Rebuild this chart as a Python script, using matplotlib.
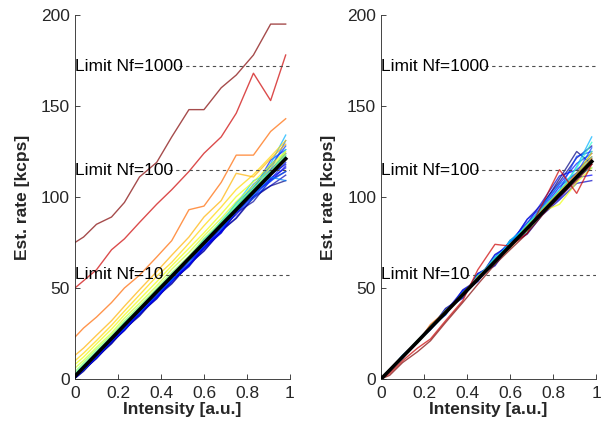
import numpy as np
import matplotlib
matplotlib.use("Agg")
import matplotlib.pyplot as plt

# %% Data

intensity = [0, 0.04, 0.1, 0.17, 0.23, 0.3, 0.38, 0.45, 0.53, 0.6, 0.68, 0.75, 0.83, 0.91, 0.98]

# raw estimates, one trace per background setting (colour index into jet)
raw_colors = [0.0, 0.02, 0.04, 0.05, 0.08, 0.1, 0.12, 0.15, 0.16, 0.18, 0.2, 0.22, 0.25, 0.28, 0.3, 0.33,
              0.38, 0.45, 0.52, 0.6, 0.64, 0.68, 0.72, 0.8, 0.93, 1.0]
raw_traces = [
    [0.4, 4.2, 11.9, 19.3, 27.4, 34.6, 45.1, 52.2, 63.1, 70.4, 81.5, 88.2, 99.6, 106.1, 109.0],
    [0.4, 5.1, 11.2, 20.1, 26.6, 35.8, 44.0, 53.9, 61.7, 71.9, 80.2, 91.3, 97.5, 109.4, 114.0],
    [0.5, 4.8, 11.4, 20.2, 26.8, 35.9, 44.3, 54.1, 62.2, 72.6, 80.7, 91.5, 101.8, 112.4, 118.0],
    [0.5, 4.6, 12.5, 19.6, 27.8, 34.9, 45.8, 52.6, 62.9, 70.3, 81.1, 88.6, 100.4, 106.2, 112.0],
    [0.6, 5.4, 11.7, 20.6, 26.9, 36.2, 44.7, 54.3, 62.4, 72.8, 81.2, 93.1, 100.2, 110.3, 116.0],
    [1.0, 5.2, 12.9, 20.7, 28.5, 35.6, 46.6, 53.5, 64.8, 71.4, 83.2, 90.2, 102.4, 108.6, 117.0],
    [0.8, 5.3, 11.8, 21.0, 27.1, 36.5, 44.6, 53.8, 62.6, 72.2, 80.4, 93.5, 102.1, 114.6, 124.0],
    [1.2, 5.7, 13.4, 20.6, 29.0, 36.4, 47.2, 54.3, 65.7, 72.3, 84.1, 92.2, 101.5, 109.8, 119.0],
    [1.0, 5.9, 12.2, 21.5, 27.6, 37.1, 45.5, 55.2, 63.4, 73.9, 82.1, 94.3, 104.0, 120.2, 126.0],
    [1.0, 5.2, 12.9, 21.1, 29.5, 36.6, 47.6, 54.5, 64.9, 73.2, 85.1, 93.0, 105.2, 117.1, 128.0],
    [1.5, 6.3, 12.7, 22.0, 28.0, 38.2, 46.4, 56.7, 65.3, 74.8, 82.4, 91.9, 99.2, 108.8, 114.0],
    [1.3, 5.7, 13.9, 21.5, 29.6, 36.5, 46.8, 54.3, 65.8, 73.3, 85.9, 94.2, 106.9, 115.1, 131.0],
    [1.8, 6.8, 13.2, 22.5, 29.1, 38.6, 47.0, 56.8, 64.4, 75.6, 83.3, 92.8, 101.1, 110.9, 109.0],
    [2.0, 6.2, 14.3, 22.0, 30.5, 37.9, 48.6, 55.9, 66.7, 74.3, 85.8, 94.1, 104.9, 114.0, 121.0],
    [2.0, 7.3, 13.7, 23.0, 29.6, 38.7, 47.4, 57.6, 66.3, 76.8, 85.2, 96.9, 105.1, 118.2, 134.0],
    [2.2, 6.8, 14.8, 22.6, 31.0, 38.5, 49.1, 56.5, 66.7, 75.3, 86.8, 96.1, 108.9, 113.2, 123.0],
    [2.5, 7.2, 14.0, 22.6, 30.4, 38.9, 48.2, 56.9, 65.4, 75.1, 84.3, 94.6, 104.2, 112.9, 126.0],
    [3.0, 8.0, 15.2, 23.4, 30.8, 39.3, 48.9, 57.3, 66.9, 75.8, 85.6, 94.7, 103.9, 113.6, 122.0],
    [4.0, 9.0, 16.3, 24.2, 31.9, 40.2, 49.8, 58.4, 67.6, 77.1, 86.4, 95.8, 104.7, 114.4, 123.0],
    [6.0, 10.2, 17.4, 25.3, 33.4, 41.6, 51.2, 60.3, 69.5, 78.6, 88.2, 97.4, 106.3, 116.1, 124.0],
    [8.0, 12.1, 19.3, 27.4, 35.2, 43.7, 53.4, 62.2, 71.8, 80.3, 90.6, 100.2, 108.4, 117.6, 125.0],
    [10.0, 14.2, 21.1, 29.5, 37.3, 46.2, 56.4, 64.1, 74.6, 84.2, 94.5, 104.1, 112.3, 122.2, 131.0],
    [13.0, 17.0, 24.0, 32.0, 40.0, 49.0, 59.0, 68.0, 78.0, 89.0, 98.0, 113.0, 111.0, 121.0, 129.0],
    [23.0, 28.0, 34.0, 42.0, 50.0, 57.0, 67.0, 76.0, 93.0, 95.0, 108.0, 123.0, 123.0, 136.0, 143.0],
    [50.0, 54.0, 60.0, 71.0, 77.0, 86.0, 96.0, 104.0, 114.0, 124.0, 133.0, 146.0, 168.0, 153.0, 178.0],
    [75.0, 78.0, 85.0, 89.0, 97.0, 111.0, 119.0, 133.0, 148.0, 148.0, 160.0, 167.0, 178.0, 195.0, 195.0],
]
raw_fit = [1.5, 6.4, 13.7, 22.2, 29.6, 38.1, 47.9, 56.4, 66.2, 74.7, 84.5, 93.0, 102.8, 112.5, 121.0]

# corrected estimates
corr_colors = [0.0, 0.03, 0.06, 0.08, 0.1, 0.12, 0.15, 0.18, 0.2, 0.25, 0.3, 0.35, 0.4, 0.45, 0.5,
               0.58, 0.64, 0.72, 0.8, 0.93, 1.0]
corr_traces = [
    [0.1, 5.3, 11.8, 21.2, 27.6, 38.8, 45.0, 57.9, 63.1, 76.2, 82.4, 95.1, 110.0, 125.0, 118.0],
    [0.0, 4.5, 12.8, 20.3, 29.1, 35.2, 49.0, 54.3, 68.4, 73.6, 87.8, 96.2, 108.3, 121.5, 128.0],
    [0.0, 5.1, 11.5, 21.0, 27.3, 38.2, 44.4, 57.1, 62.2, 73.8, 79.6, 90.1, 98.4, 107.5, 109.0],
    [0.1, 4.9, 12.3, 20.7, 28.4, 35.9, 47.1, 53.6, 66.2, 72.0, 85.3, 97.4, 111.6, 114.9, 122.0],
    [0.1, 4.4, 12.7, 20.2, 29.0, 37.1, 48.6, 53.7, 66.9, 75.5, 85.9, 93.2, 105.6, 113.1, 120.0],
    [0.0, 5.2, 11.6, 21.1, 27.4, 38.3, 44.8, 57.9, 62.7, 74.9, 80.4, 92.0, 99.1, 110.7, 112.0],
    [0.2, 4.3, 12.6, 20.0, 28.8, 35.3, 48.4, 54.2, 68.1, 73.2, 87.7, 94.3, 107.2, 118.4, 124.0],
    [0.0, 4.7, 12.2, 20.5, 28.2, 37.7, 45.9, 56.5, 64.6, 75.8, 82.6, 92.4, 103.7, 122.3, 125.0],
    [0.0, 5.0, 11.4, 20.9, 27.0, 36.1, 47.2, 55.4, 66.2, 74.1, 84.3, 94.1, 102.2, 113.0, 127.0],
    [0.1, 4.6, 13.0, 20.4, 29.3, 37.0, 45.9, 57.0, 64.8, 75.2, 83.1, 95.6, 106.8, 113.2, 121.0],
    [0.0, 5.3, 11.7, 21.3, 27.5, 35.4, 47.6, 54.0, 66.3, 72.8, 84.2, 92.9, 101.4, 116.8, 133.0],
    [0.2, 4.4, 12.9, 20.3, 29.2, 37.2, 45.8, 56.6, 63.9, 76.1, 83.8, 93.3, 104.1, 111.2, 116.0],
    [0.0, 5.1, 11.5, 21.2, 27.3, 36.6, 47.0, 55.3, 66.9, 73.3, 85.1, 94.0, 103.3, 115.8, 130.0],
    [0.3, 4.6, 12.6, 20.0, 29.0, 36.9, 45.3, 56.7, 63.1, 74.4, 81.0, 90.8, 100.9, 111.3, 125.0],
    [0.0, 5.2, 12.0, 21.4, 27.8, 36.5, 47.2, 54.8, 65.5, 72.6, 84.3, 92.6, 101.8, 110.4, 119.0],
    [0.2, 4.3, 12.4, 19.9, 28.1, 37.8, 45.6, 55.9, 63.8, 74.1, 81.7, 90.6, 101.3, 111.6, 122.0],
    [0.5, 5.0, 12.0, 21.0, 28.0, 37.0, 46.0, 55.0, 65.0, 73.0, 84.0, 92.0, 96.0, 108.0, 116.0],
    [0.3, 5.0, 12.0, 21.0, 28.0, 36.0, 46.0, 55.0, 64.0, 72.0, 82.0, 93.0, 103.0, 113.0, 124.0],
    [0.0, 5.0, 12.0, 20.0, 30.0, 37.0, 47.0, 56.0, 65.0, 73.0, 83.0, 92.0, 102.0, 112.0, 121.0],
    [0.0, 3.0, 10.0, 17.0, 22.0, 32.0, 43.0, 60.0, 74.0, 73.0, 80.0, 96.0, 115.0, 102.0, 118.0],
    [0.0, 2.0, 9.0, 15.0, 21.0, 31.0, 42.0, 52.0, 63.0, 71.0, 80.0, 90.0, 100.0, 109.0, 118.0],
]
corr_fit = [0.0, 4.8, 12.1, 20.6, 28.0, 36.5, 46.3, 54.8, 64.6, 73.1, 82.8, 91.4, 101.2, 110.9, 119.5]

limit_levels = [57.3, 114.6, 171.9]
limit_labels = ["Limit Nf=10", "Limit Nf=100", "Limit Nf=1000"]

# %% Plot

plt.rcParams["font.family"] = ["Liberation Sans", "DejaVu Sans"]
axcol = (0.15, 0.15, 0.15)

fig = plt.figure(figsize=(6.11, 4.32), dpi=100)
ax1 = fig.add_axes([0.1227, 0.1227, 0.3519, 0.8426])
ax2 = fig.add_axes([0.6236, 0.1227, 0.3519, 0.8426])

panels = [(ax1, raw_traces, raw_colors, raw_fit), (ax2, corr_traces, corr_colors, corr_fit)]

for ax, traces, colors, fit in panels:
    for tr, c in zip(traces, colors):
        ax.plot(intensity, tr, color=plt.cm.jet(c), lw=1.0, alpha=0.7, zorder=2)
    ax.plot(intensity, fit, color="k", lw=2.6, zorder=4)

    ax.set_xlim(0, 1)
    ax.set_ylim(0, 200)
    ax.set_xticks([0, 0.2, 0.4, 0.6, 0.8, 1])
    ax.set_xticklabels(["0", "0.2", "0.4", "0.6", "0.8", "1"])
    ax.set_yticks([0, 50, 100, 150, 200])
    ax.tick_params(direction="in", length=3.5, width=0.6, colors=axcol,
                   labelsize=12.5)
    ax.tick_params(axis="x", pad=5)
    for s in ["top", "right"]:
        ax.spines[s].set_visible(False)
    for s in ["left", "bottom"]:
        ax.spines[s].set_color(axcol)
        ax.spines[s].set_linewidth(0.6)
    ax.set_xlabel("Intensity [a.u.]", fontsize=12.5, fontweight="bold", color=axcol, labelpad=1)
    ax.set_ylabel("Est. rate [kcps]", fontsize=12.5, fontweight="bold", color=axcol, labelpad=8)

fig.canvas.draw()
renderer = fig.canvas.get_renderer()

for ax in [ax1, ax2]:
    for lev, lab in zip(limit_levels, limit_labels):
        t = ax.text(0, lev, lab, fontsize=12.5, color="k", va="center", ha="left", zorder=5)
        bb = t.get_window_extent(renderer=renderer)
        x_end = ax.transData.inverted().transform((bb.x1 - 4, 0))[0]
        ln, = ax.plot([x_end, 1], [lev, lev], color=(0.3, 0.3, 0.3), lw=0.8, zorder=3)
        ln.set_dashes((3, 3))

fig.savefig("out.png", dpi=100)
